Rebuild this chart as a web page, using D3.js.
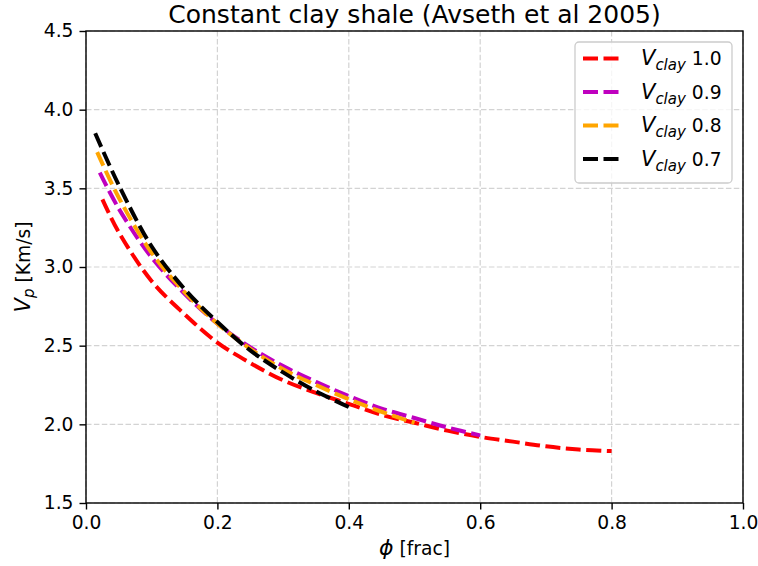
<!DOCTYPE html>
<html>
<head>
<meta charset="utf-8">
<script src="https://cdn.jsdelivr.net/npm/d3@7"></script>
<style>
  body { margin: 0; background: #fff; }
  text { font-family: "DejaVu Sans", sans-serif; fill: #000; }
</style>
</head>
<body>
<svg id="chart" width="758" height="566"></svg>
<script>
// values
let phiRed = [0.025, 0.05, 0.10, 0.15, 0.20, 0.25, 0.30, 0.35, 0.40, 0.45, 0.50, 0.55, 0.60, 0.65, 0.70, 0.75, 0.80]
let vpRed = [3.43, 3.22, 2.91, 2.70, 2.52, 2.39, 2.28, 2.20, 2.13, 2.06, 2.01, 1.96, 1.92, 1.89, 1.86, 1.84, 1.83]

let phiPurple = [0.021, 0.05, 0.10, 0.15, 0.20, 0.25, 0.30, 0.35, 0.40, 0.45, 0.50, 0.55, 0.60]
let vpPurple = [3.60, 3.37, 3.06, 2.83, 2.64, 2.49, 2.37, 2.27, 2.18, 2.10, 2.04, 1.98, 1.93]

let phiOrange = [0.017, 0.05, 0.10, 0.15, 0.20, 0.25, 0.30, 0.35, 0.40, 0.45, 0.50]
let vpOrange = [3.73, 3.44, 3.09, 2.84, 2.64, 2.48, 2.35, 2.25, 2.16, 2.08, 2.01]

let phiBlack = [0.014, 0.05, 0.10, 0.15, 0.20, 0.25, 0.30, 0.35, 0.40]
let vpBlack = [3.85, 3.52, 3.13, 2.86, 2.65, 2.47, 2.33, 2.21, 2.11]

let clayLabels = ["1.0", "0.9", "0.8", "0.7"]
let xTicks = [0.0, 0.2, 0.4, 0.6, 0.8, 1.0]
let yTicks = [1.5, 2.0, 2.5, 3.0, 3.5, 4.0, 4.5]

let series = [
	{phi: phiRed, vp: vpRed, color: "#ff0000"},
	{phi: phiPurple, vp: vpPurple, color: "#bf00bf"},
	{phi: phiOrange, vp: vpOrange, color: "#ffa500"},
	{phi: phiBlack, vp: vpBlack, color: "#000000"}
]

let margin = {top: 31, right: 15, bottom: 63, left: 86}
let width = 758 - margin.left - margin.right
let height = 566 - margin.top - margin.bottom

let svg = d3.select("#chart")
let body = svg.append("g")
	.attr("transform", "translate(" + margin.left + "," + margin.top + ")")

let xscale = d3.scaleLinear().domain([0, 1]).range([0, width])
let yscale = d3.scaleLinear().domain([1.5, 4.5]).range([height, 0])

//grid
body.append("g").selectAll("line")
	.data(xTicks)
	.enter().append("line")
	.attr("x1", d => xscale(d)).attr("x2", d => xscale(d))
	.attr("y1", 0).attr("y2", height)
	.attr("stroke", "#d3d3d3").attr("stroke-width", 1.2)
	.attr("stroke-dasharray", "5.5,2.4")

body.append("g").selectAll("line")
	.data(yTicks)
	.enter().append("line")
	.attr("y1", d => yscale(d)).attr("y2", d => yscale(d))
	.attr("x1", 0).attr("x2", width)
	.attr("stroke", "#d3d3d3").attr("stroke-width", 1.2)
	.attr("stroke-dasharray", "5.5,2.4")

//lines
let line = d3.line()
	.x(d => xscale(d[0]))
	.y(d => yscale(d[1]))
	.curve(d3.curveCatmullRom)

series.forEach(s => {
	body.append("path")
		.datum(s.phi.map((p, i) => [p, s.vp[i]]))
		.attr("d", line)
		.attr("fill", "none")
		.attr("stroke", s.color)
		.attr("stroke-width", 4)
		.attr("stroke-dasharray", "15,5.5")
})

//axes
let xAxis = body.append("g")
	.attr("transform", "translate(0," + height + ")")
	.call(d3.axisBottom(xscale).tickValues(xTicks).tickFormat(d3.format(".1f")).tickSize(6.5).tickPadding(6))
let yAxis = body.append("g")
	.call(d3.axisLeft(yscale).tickValues(yTicks).tickFormat(d3.format(".1f")).tickSize(6.5).tickPadding(6))

;[xAxis, yAxis].forEach(a => {
	a.select(".domain").remove()
	a.selectAll("line").attr("stroke", "#000").attr("stroke-width", 1.4)
	a.selectAll("text").style("font-size", "18.7px").style("font-family", "DejaVu Sans")
})

//frame
body.append("rect")
	.attr("width", width).attr("height", height)
	.attr("fill", "none").attr("stroke", "#000").attr("stroke-width", 1.4)

//title
svg.append("text")
	.attr("x", margin.left + width / 2).attr("y", 23)
	.attr("text-anchor", "middle")
	.style("font-size", "25px")
	.text("Constant clay shale (Avseth et al 2005)")

//x label
let xl = svg.append("text")
	.attr("x", margin.left + width / 2).attr("y", 555)
	.attr("text-anchor", "middle")
	.style("font-size", "18.7px")
xl.append("tspan").style("font-style", "italic").style("font-size", "22px").text("ϕ")
xl.append("tspan").text(" [frac]")

//y label
let yl = svg.append("text")
	.attr("transform", "translate(30," + (margin.top + height / 2) + ") rotate(-90)")
	.attr("text-anchor", "middle")
	.style("font-size", "18.7px")
yl.append("tspan").style("font-style", "italic").style("font-size", "21px").text("V")
yl.append("tspan").style("font-style", "italic").style("font-size", "15px").attr("dy", 4).text("p")
yl.append("tspan").attr("dy", -4).text(" [Km/s]")

//legend
let legend = svg.append("g").attr("transform", "translate(575,42)")
legend.append("rect")
	.attr("width", 157).attr("height", 141).attr("rx", 4)
	.attr("fill", "#fff").attr("fill-opacity", 0.8)
	.attr("stroke", "#cccccc").attr("stroke-width", 1.3)

series.forEach((s, i) => {
	let y = 16.5 + i * 33.5
	legend.append("line")
		.attr("x1", 8).attr("x2", 48).attr("y1", y).attr("y2", y)
		.attr("stroke", s.color).attr("stroke-width", 4)
		.attr("stroke-dasharray", "15,5.5")
	let t = legend.append("text")
		.attr("x", 66).attr("y", y + 6.5)
		.style("font-size", "18.7px")
	t.append("tspan").style("font-style", "italic").style("font-size", "21px").text("V")
	t.append("tspan").style("font-style", "italic").style("font-size", "15px").attr("dy", 5).text("clay")
	t.append("tspan").attr("dy", -5).text(" " + clayLabels[i])
})
</script>
</body>
</html>
